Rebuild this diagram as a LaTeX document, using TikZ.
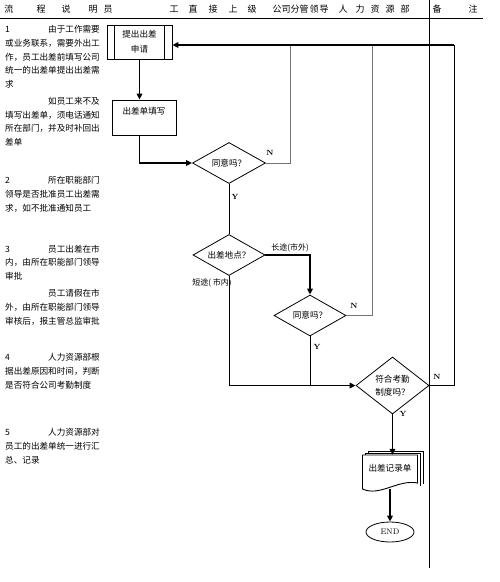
\documentclass[tikz,border=0pt]{standalone}
\usepackage{fontspec}
\newfontfamily\cjk{Noto Sans CJK SC}
\usetikzlibrary{positioning, arrows.meta, shapes}

\begin{document}
\begin{tikzpicture}[x=1pt, y=-1pt, font=\cjk\fontsize{8.6}{13}\selectfont,
    box/.style={draw, line width=0.8pt, inner sep=0pt, align=center},
    choice/.style={draw, diamond, aspect=1.3, inner sep=0pt, line width=0.8pt, align=center},
    flow/.style={line width=1.6pt, -{Triangle[length=6pt, width=5.5pt]}},
    plain/.style={line width=0.9pt},
    back/.style={line width=1pt, black!55},
    yn/.style={inner sep=0pt, font=\rmfamily\bfseries\fontsize{7.5}{9}\selectfont},
    desc/.style={anchor=west, inner sep=0pt},
    descr/.style={anchor=east, inner sep=0pt}]
  \useasboundingbox (0,0) rectangle (500,582);

  % header row
  \foreach \x/\c in {9/流, 41/程, 66/说, 93/明, 108/员, 174/工, 193/直, 213/接, 233/上,
                     252/级, 277/公, 286/司, 295/分, 304/管, 314/领, 324/导, 343/人,
                     360/力, 375/资, 390/源, 405/部, 437/备, 473/注}
    \node[inner sep=0pt, font=\cjk\fontsize{9}{10}\selectfont] (head-\x) at (\x,9) {\c};
  \draw[plain] (0,18) -- (483,18);
  \draw[plain] (429,0) -- (429,568);

  % process notes
  \node[desc] (s1) at (5,29) {1};
  \node[descr] (s1a) at (100,29) {由于工作需要};
  \node[desc] (s1b) at (5,43) {或业务联系，需要外出工};
  \node[desc] (s1c) at (5,57) {作，员工出差前填写公司};
  \node[desc] (s1d) at (5,70) {统一的出差单提出出差需};
  \node[desc] (s1e) at (5,84) {求};
  \node[descr] (s1f) at (100,101) {如员工来不及};
  \node[desc] (s1g) at (5,115) {填写出差单，须电话通知};
  \node[desc] (s1h) at (5,128) {所在部门，并及时补回出};
  \node[desc] (s1i) at (5,142) {差单};

  \node[desc] (s2) at (5,180) {2};
  \node[descr] (s2a) at (100,180) {所在职能部门};
  \node[desc] (s2b) at (5,194) {领导是否批准员工出差需};
  \node[desc] (s2c) at (5,208) {求，如不批准通知员工};

  \node[desc] (s3) at (5,249) {3};
  \node[descr] (s3a) at (100,249) {员工出差在市};
  \node[desc] (s3b) at (5,262) {内，由所在职能部门领导};
  \node[desc] (s3c) at (5,276) {审批};
  \node[descr] (s3d) at (100,293) {员工请假在市};
  \node[desc] (s3e) at (5,307) {外，由所在职能部门领导};
  \node[desc] (s3f) at (5,321) {审核后，报主管总监审批};

  \node[desc] (s4) at (5,357) {4};
  \node[descr] (s4a) at (100,357) {人力资源部根};
  \node[desc] (s4b) at (5,371) {据出差原因和时间，判断};
  \node[desc] (s4c) at (5,385) {是否符合公司考勤制度};

  \node[desc] (s5) at (5,432) {5};
  \node[descr] (s5a) at (100,432) {人力资源部对};
  \node[desc] (s5b) at (5,446) {员工的出差单统一进行汇};
  \node[desc] (s5c) at (5,460) {总、记录};

  % flow
  \node[box, minimum width=65, minimum height=34] (apply) at (139.5,42) {提出出差\\[2pt]申请};
  \draw[plain] ([xshift=8pt]apply.north west) -- ([xshift=8pt]apply.south west);
  \draw[plain] ([xshift=-8pt]apply.north east) -- ([xshift=-8pt]apply.south east);
  \node[box, minimum width=64, minimum height=35] (form) at (144,117.5) {出差单填写\\ \mbox{}};
  \node[choice, minimum width=73, minimum height=41] (ok1) at (229,163) {同意吗？};
  \node[choice, minimum width=72, minimum height=40] (place) at (229,255) {出差地点？};
  \node[choice, minimum width=72, minimum height=41] (ok2) at (310,315.5) {同意吗？};
  \node[choice, minimum width=73, minimum height=57] (check) at (392.5,385.5) {符合考勤\\制度吗？};

  \draw[plain] (365,455) -- (365,453) -- (420,453) -- (420,486);
  \draw[plain] (368,453) -- (368,451) -- (423,451) -- (423,484);
  \draw[plain, fill=white] (362.5,455) -- (417.5,455) -- (417.5,483)
        .. controls (398,479) and (380,497) .. (362.5,489) -- cycle;
  \node[inner sep=0pt, minimum width=55, minimum height=26] (record) at (390,468) {出差记录单};
  \node[draw, ellipse, line width=0.8pt, inner sep=0pt, minimum width=48, minimum height=20,
        font=\rmfamily\fontsize{8}{9}\selectfont] (end) at (390,532) {END};

  \coordinate (top1) at (290,45);
  \coordinate (top2) at (372,45);
  \coordinate (top3) at (454,45);
  \coordinate (merge) at (place.south |- check.west);

  \draw[flow] (apply.south) -- (apply.south |- form.north);
  \draw[flow] (form.south -| apply.south) |- (ok1.west);
  \draw[plain] (ok1.south) -- (place.north);
  \draw[flow] (place.east) -| (ok2.north);
  \draw[plain] (place.south) -- (merge);
  \draw[plain] (ok2.south) -- (ok2.south |- merge);
  \draw[flow] (merge) -- (check.west);
  \draw[back] (ok1.east) -| (top1);
  \draw[back] (ok2.east) -| (top2);
  \draw[plain] (check.east) -| (top3);
  \draw[flow] (top3) -- (apply.east |- top3);
  \draw[flow] (check.south) -- (check.south |- record.north);
  \draw[flow] ([yshift=-8pt]record.south) -- (end.north);

  \node[yn] (no1) at (270,153) {N};
  \node[yn] (yes1) at (235,197) {Y};
  \node[inner sep=0pt, font=\cjk\fontsize{8}{9}\selectfont] (far) at (290,248) {长途(市外)};
  \node[inner sep=0pt, font=\cjk\fontsize{8}{9}\selectfont] (near) at (212,283) {短途( 市内)};
  \node[yn] (no2) at (354,306) {N};
  \node[yn] (yes2) at (317,347) {Y};
  \node[yn] (no3) at (437,377) {N};
  \node[yn] (yes3) at (403,414) {Y};
\end{tikzpicture}
\end{document}
